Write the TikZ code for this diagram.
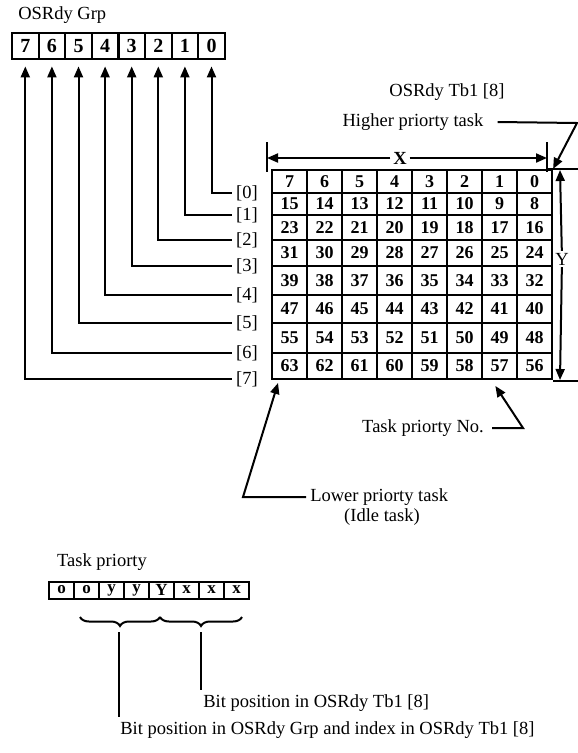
\documentclass[tikz,border=0pt]{standalone}
\usepackage{fontspec}
\setmainfont{Liberation Serif}
\usetikzlibrary{positioning, arrows.meta, decorations.pathreplacing}

\begin{document}
\begin{tikzpicture}[x=1pt, y=-1pt, line width=2pt,
    font=\fontsize{18.5}{20}\selectfont,
    grpcell/.style={draw, line width=2.2pt, minimum width=26.6pt, minimum height=26pt, inner sep=0pt, font=\fontsize{20}{20}\selectfont\bfseries},
    tblcell/.style={draw, line width=2.2pt, minimum width=35pt, inner sep=0pt, font=\fontsize{18}{18}\selectfont\bfseries},
    bitcell/.style={draw, line width=2pt, minimum width=25pt, minimum height=17pt, inner sep=0pt, font=\fontsize{17}{17}\selectfont\bfseries},
    arr/.style={-{Triangle[width=9pt, length=11pt]}}]
    \useasboundingbox (0,0) rectangle (578,753);

    \node[anchor=west] (grptitle) at (14,15) {OSRdy Grp};
    \foreach \b in {0,...,7}
        \node[grpcell] (g\b) at ({211.5-26.6*\b},46.3) {\b};

    \node (tbltitle) at (447,92) {OSRdy Tb1 [8]};
    \foreach \r/\yt/\yb in {0/170/193, 1/193/215, 2/215/240, 3/240/266, 4/266/295, 5/295/323, 6/323/353, 7/353/379} {
        \foreach \c in {0,...,7} {
            \pgfmathtruncatemacro\n{8*\r+\c}
            \node[tblcell, minimum height={\yb-\yt}] (t\n) at ({534.5-35*\c},{(\yt+\yb)/2}) {\n};
        }
        \node (idx\r) at (247,\yb) {[\r]};
        \draw[arr, shorten >=6pt] (idx\r.west) -| (g\r.south);
    }

    % X and Y extents
    \draw (267,142) -- (267,172);
    \draw (547,142) -- (547,172);
    \coordinate (xl) at (267,158);
    \coordinate (xr) at (547,158);
    \node[fill=white, inner sep=2pt, font=\fontsize{18.5}{20}\selectfont\bfseries] (xlab) at (400,158) {X};
    \draw[arr] (xlab) -- (xl);
    \draw[arr] (xlab) -- (xr);

    \draw (548,169) -- (578,169);
    \draw (553,381) -- (578,381);
    \coordinate (yt) at (560,170);
    \coordinate (yb) at (560,380);
    \node[fill=white, inner sep=1pt] (ylab) at (562,259) {Y};
    \draw[arr] (ylab) -- (yt);
    \draw[arr] (ylab) -- (yb);

    \node (hp) at (413,122) {Higher priorty task};
    \coordinate (hpc) at (577,123);
    \draw[arr] ([xshift=10pt]hp.east) -- (hpc) -- (t0.north east);

    \node (tpn) at (423,428) {Task priorty No.};
    \coordinate (tpnc) at (523,428);
    \draw[arr, shorten >=7pt] ([xshift=4pt]tpn.east) -- (tpnc) -- ([xshift=-8pt]t57.south);

    \node[anchor=west] (lp) at (306,497) {Lower priorty task};
    \node (idle) at (382,517) {(Idle task)};
    \coordinate (lpc) at (243,497);
    \draw[arr, shorten >=3pt] (lp.west) -- (lpc) -- ([xshift=8pt]t63.south west);

    % priority byte
    \node (tptitle) at (102,562) {Task priorty};
    \foreach \l [count=\j from 0] in {o,o,y,y,Y,x,x,x}
        \node[bitcell] (b\j) at ({61.5+25*\j},590) {\l};
    \draw[decorate, decoration={brace, mirror, amplitude=9pt}] (80,617) -- (160,617);
    \draw[decorate, decoration={brace, mirror, amplitude=9pt}] (160,617) -- (242,617);
    \coordinate (ybr) at (119,632);
    \coordinate (xbr) at (201,632);

    \node[anchor=west] (xpos) at (199,703) {Bit position in OSRdy Tb1 [8]};
    \node[anchor=west] (ypos) at (116,730) {Bit position in OSRdy Grp and index in OSRdy Tb1 [8]};
    \draw (xbr) -- (xbr |- xpos.north);
    \draw (ybr) -- (ybr |- ypos.north);
\end{tikzpicture}
\end{document}
